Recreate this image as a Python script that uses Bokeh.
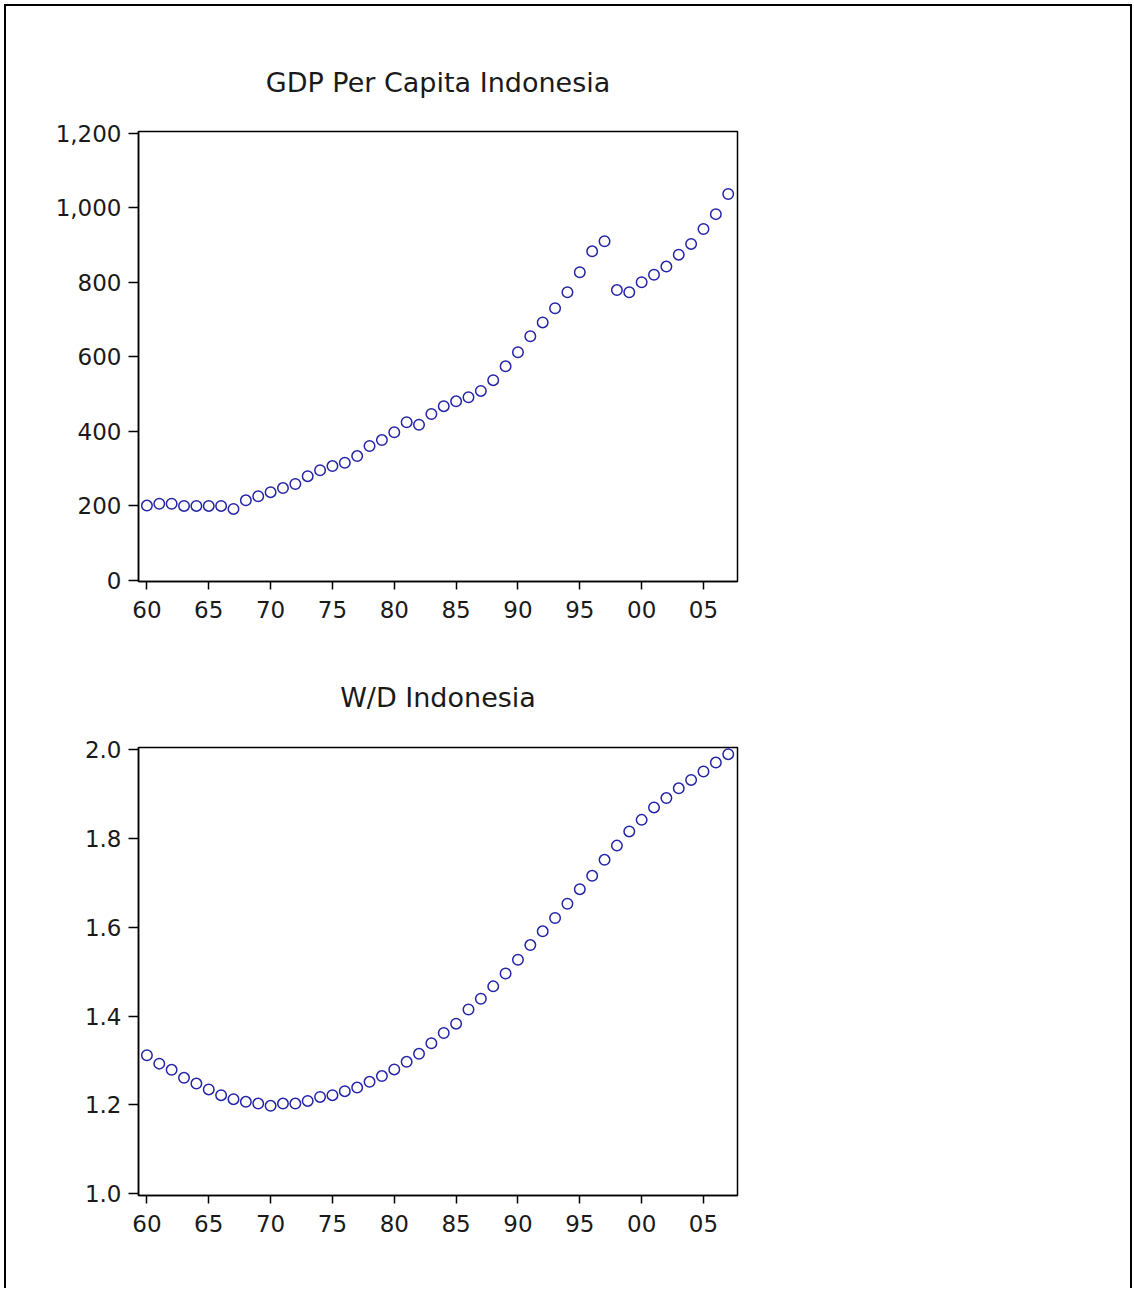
from bokeh.plotting import figure
from bokeh.layouts import column
from bokeh.models import FixedTicker, Range1d, NumeralTickFormatter
from bokeh.embed import file_html
from bokeh.resources import INLINE

years = list(range(1960, 2008))

gdp = [200, 205, 205, 199, 199, 199, 199, 191, 214, 225,
       236, 247, 258, 279, 295, 306, 315, 333, 360, 376,
       397, 424, 417, 446, 467, 480, 491, 508, 537, 574,
       612, 655, 692, 730, 773, 827, 883, 910, 779, 773,
       800, 820, 842, 874, 903, 943, 983, 1037]

wd = [1.312, 1.293, 1.279, 1.261, 1.248, 1.235, 1.222, 1.213, 1.207, 1.203,
      1.198, 1.203, 1.203, 1.209, 1.218, 1.222, 1.231, 1.239, 1.252, 1.265,
      1.280, 1.297, 1.315, 1.339, 1.362, 1.383, 1.415, 1.439, 1.467, 1.496,
      1.527, 1.560, 1.591, 1.621, 1.653, 1.686, 1.716, 1.752, 1.784, 1.816,
      1.842, 1.870, 1.891, 1.913, 1.932, 1.951, 1.971, 1.990]

x_ticks = [1960, 1965, 1970, 1975, 1980, 1985, 1990, 1995, 2000, 2005]
x_tick_labels = ["60", "65", "70", "75", "80", "85", "90", "95", "00", "05"]
gdp_ticks = [0, 200, 400, 600, 800, 1000, 1200]
wd_ticks = [1.0, 1.2, 1.4, 1.6, 1.8, 2.0]

titles = ["GDP Per Capita Indonesia", "W/D Indonesia"]

FONT = "DejaVu Sans"
TXT = "#1a1a1a"
MARK = "#2424a8"


def make_fig(title, ys, yticks, yrange, height, mb_top, mb_bottom, fmt, standoff):
    p = figure(width=1124, height=height, output_backend="svg",
               toolbar_location=None, title=title,
               x_range=Range1d(1959.32, 2007.75), y_range=Range1d(*yrange),
               min_border_left=132, min_border_right=393,
               min_border_top=mb_top, min_border_bottom=mb_bottom)
    p.title.align = "center"
    p.title.text_font = FONT
    p.title.text_font_size = "27px"
    p.title.text_font_style = "normal"
    p.title.text_color = TXT
    p.title.standoff = standoff
    p.grid.visible = False
    p.outline_line_color = "black"
    p.outline_line_width = 1.5
    p.outline_line_alpha = 1.0
    p.background_fill_color = "white"
    p.border_fill_color = "white"

    p.xaxis.ticker = FixedTicker(ticks=x_ticks)
    p.xaxis.major_label_overrides = dict(zip(x_ticks, x_tick_labels))
    p.yaxis.ticker = FixedTicker(ticks=yticks)
    p.yaxis.formatter = NumeralTickFormatter(format=fmt)
    for ax in (p.xaxis[0], p.yaxis[0]):
        ax.axis_line_color = "black"
        ax.axis_line_width = 1.5
        ax.major_tick_line_color = "black"
        ax.major_tick_line_width = 1.5
        ax.major_tick_in = 0
        ax.minor_tick_line_color = None
        ax.major_label_text_font = FONT
        ax.major_label_text_font_size = "23px"
        ax.major_label_text_color = TXT
    p.xaxis.major_tick_out = 8
    p.yaxis.major_tick_out = 10
    p.xaxis.major_label_standoff = 11
    p.yaxis.major_label_standoff = 7

    p.scatter(years, ys, marker="circle", size=10.5, fill_color=None,
              line_color=MARK, line_width=1.5)
    return p


p1 = make_fig(titles[0], gdp, gdp_ticks, (-4, 1205), 634, 125, 59, "0,0", 68)
p2 = make_fig(titles[1], wd, wd_ticks, (0.996, 2.005), 648, 107, 93, "0.0", 70)

layout = column(p1, p2, styles={"margin-left": "4px",
                                "margin-top": "4px",
                                "border-top": "2px solid black",
                                "border-left": "2px solid black",
                                "border-right": "2px solid black",
                                "background-color": "white"})

open("out.html", "w").write(file_html(layout, INLINE))
